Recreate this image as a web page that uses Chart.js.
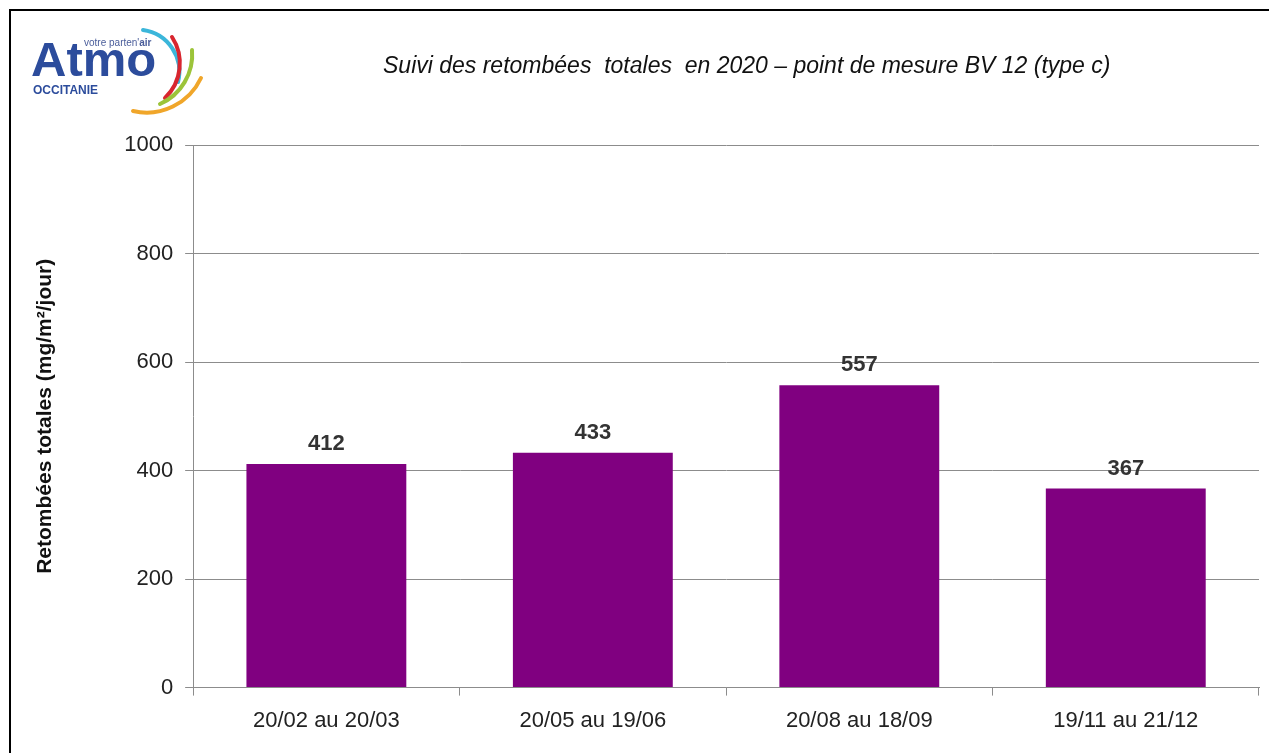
<!DOCTYPE html>
<html lang="fr">

<head>
   <meta charset="UTF-8">
   <title>Retombées totales 2020 - BV 12</title>
   <style>
      body { margin: 0; background: #fff; }
      #frame { position: absolute; left: 0; top: 0; width: 1269px; height: 753px; overflow: hidden; }
      #border { position: absolute; left: 9px; top: 9px; right: -5px; bottom: -5px; border-top: 2px solid #000; border-left: 2px solid #000; }
      #chartBox { position: absolute; left: 0; top: 0; width: 1269px; height: 753px; }
      #title { position: absolute; top: 52px; left: 383px; font: italic 23px "Liberation Sans", Arial, sans-serif; color: #111; white-space: pre; }
      #logo { position: absolute; left: 20px; top: 20px; width: 200px; height: 100px; }
      .atmo { position: absolute; left: 11px; top: 15px; font: bold 49px/1 "Liberation Sans", Arial, sans-serif; color: #2c4c9c; letter-spacing: 0px; }
      .tag { position: absolute; left: 64px; top: 18px; font: 10px/1 "Liberation Sans", Arial, sans-serif; color: #4a5d9a; }
      .occ { position: absolute; left: 13px; top: 64px; font: bold 12px/1 "Liberation Sans", Arial, sans-serif; color: #2c4c9c; }
   </style>
</head>

<body>
   <script src="https://cdn.jsdelivr.net/npm/chart.js"></script>
   <div id="frame">
      <div id="border"></div>
      <div id="chartBox"><canvas id="bar-chart" width="1269" height="753"></canvas></div>
      <div id="logo">
         <svg width="200" height="100" style="position:absolute;left:0;top:0">
            <path d="M123 10 A42 42 0 0 1 158 62" fill="none" stroke="#3bb6da" stroke-width="4" stroke-linecap="round" />
            <path d="M152 17 A48 48 0 0 1 145 78" fill="none" stroke="#d8262f" stroke-width="4" stroke-linecap="round" />
            <path d="M172 30 A54 54 0 0 1 140 84" fill="none" stroke="#9cc43a" stroke-width="4" stroke-linecap="round" />
            <path d="M181 58 A60 60 0 0 1 113 91" fill="none" stroke="#f0a62a" stroke-width="4" stroke-linecap="round" />
         </svg>
         <div class="tag">votre parten'<b>air</b></div>
         <div class="atmo">Atmo</div>
         <div class="occ">OCCITANIE</div>
      </div>
      <div id="title">Suivi des retombées  totales  en 2020 – point de mesure BV 12 (type c)</div>
   </div>
   <script>
      // data
      const periods = ["20/02 au 20/03", "20/05 au 19/06", "20/08 au 18/09", "19/11 au 21/12"];
      const retombees = [412, 433, 557, 367];
      const yTicks = [0, 200, 400, 600, 800, 1000];

      const FONT = '"Liberation Sans", Arial, sans-serif';

      // value labels above bars
      const valueLabels = {
         id: 'valueLabels',
         afterDatasetsDraw(chart) {
            const ctx = chart.ctx;
            const meta = chart.getDatasetMeta(0);
            ctx.save();
            ctx.font = 'bold 22px ' + FONT;
            ctx.fillStyle = '#333';
            ctx.textAlign = 'center';
            ctx.textBaseline = 'middle';
            meta.data.forEach((bar, i) => {
               ctx.fillText(String(retombees[i]), bar.x, bar.y - 20);
            });
            ctx.restore();
         }
      };

      new Chart(document.getElementById("bar-chart"), {
         type: 'bar',
         data: {
            labels: periods,
            datasets: [{
               label: "Retombées totales",
               data: retombees,
               backgroundColor: "#800080",
               barPercentage: 0.6,
               categoryPercentage: 1
            }]
         },
         options: {
            responsive: false,
            animation: false,
            layout: { padding: { left: 33, right: 10, top: 145, bottom: 7 } },
            plugins: {
               legend: { display: false },
               tooltip: { enabled: false }
            },
            scales: {
               x: {
                  grid: { drawOnChartArea: false, drawTicks: true, tickLength: 8, color: '#8c8c8c' },
                  border: { color: '#8c8c8c' },
                  ticks: { color: '#222', font: { family: FONT, size: 22 }, padding: 12 }
               },
               y: {
                  min: 0,
                  max: 1000,
                  afterBuildTicks(axis) { axis.ticks = yTicks.map(v => ({ value: v })); },
                  grid: { color: '#8c8c8c', tickLength: 8 },
                  border: { color: '#8c8c8c' },
                  ticks: {
                     color: '#222', font: { family: FONT, size: 22 }, padding: 12,
                     callback: v => String(v)
                  },
                  title: {
                     display: true,
                     text: 'Retombées totales (mg/m²/jour)',
                     color: '#111',
                     font: { family: FONT, size: 21, weight: 'bold' },
                     padding: { top: 0, bottom: 54 }
                  }
               }
            }
         },
         plugins: [valueLabels]
      });
   </script>
</body>

</html>
